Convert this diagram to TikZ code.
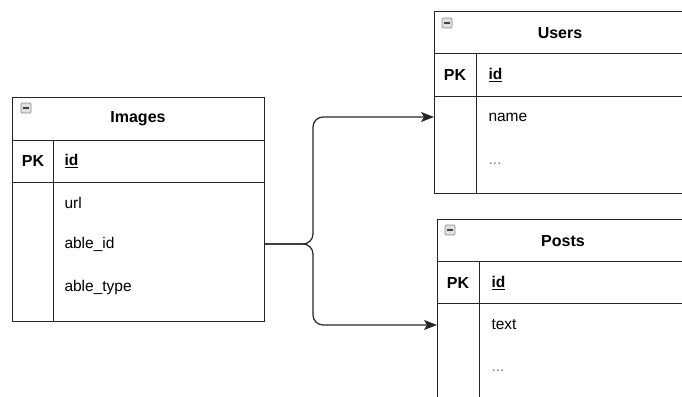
\documentclass[tikz,border=0pt]{standalone}
\usepackage{fontspec}
\setmainfont{Liberation Sans}
\usetikzlibrary{arrows.meta}
\begin{document}
\begin{tikzpicture}[x=1pt,y=-1pt,line width=1pt,
  tbl/.style={draw=black!85,anchor=north west,inner sep=0,outer sep=0,minimum width=252pt},
  sep/.style={draw=black!85},
  ttl/.style={font=\bfseries\fontsize{16}{19}\selectfont,inner sep=0},
  pk/.style={font=\bfseries\fontsize{16}{19}\selectfont,inner sep=0},
  fld/.style={anchor=west,font=\fontsize{15.5}{19}\selectfont,inner sep=0},
  dots/.style={anchor=west,font=\fontsize{15.5}{19}\selectfont,inner sep=0,text=black!50},
  conn/.style={draw=black!85,line width=1.2pt,rounded corners=10pt,-{Stealth[length=13pt,width=10pt,inset=3pt]}}]
\useasboundingbox (0,0) rectangle (682,396);
\clip (0,0) rectangle (682,396);
\newcommand{\minusicon}[2]{%
  \draw[line width=0.7pt,draw=black!45,fill=black!12,rounded corners=1.2pt] (#1,#2) rectangle ++(10,10);
  \draw[line width=1.4pt,draw=black!75] (#1+2.2,#2+5) -- ++(5.6,0);}
% Images
\node[tbl,minimum height=224pt] (images) at (12,97) {};
\draw[sep] (12,140) -- (264,140) (12,182) -- (264,182) (53,140) -- (53,321);
\minusicon{21}{103}
\node[ttl] (imgt) at (138,119) {Images};
\node[pk] (imgpk) at (33,161) {PK};
\node[fld] (imgid) at (64,161) {\bfseries\underline{id}};
\node[fld] (url) at (64,203) {url};
\node[fld] (aid) at (64,244) {able\_id};
\node[fld] (atype) at (64,287) {able\_type};
% Users
\node[tbl,minimum height=181pt] (users) at (434,12) {};
\draw[sep] (434,54) -- (690,54) (434,96) -- (690,96) (476,54) -- (476,193);
\minusicon{442}{18}
\node[ttl] (ust) at (560,33) {Users};
\node[pk] (uspk) at (455,75) {PK};
\node[fld] (usid) at (488,75) {\bfseries\underline{id}};
\node[fld] (nm) at (488,117) {name};
\node[dots] (usdots) at (488,164) {...};
% Posts
\node[tbl,minimum height=200pt] (posts) at (437,219) {};
\draw[sep] (437,261) -- (692,261) (437,303) -- (692,303) (479,261) -- (479,420);
\minusicon{445}{225}
\node[ttl] (pst) at (563,241) {Posts};
\node[pk] (pspk) at (458,283) {PK};
\node[fld] (psid) at (491,283) {\bfseries\underline{id}};
\node[fld] (txt) at (491,325) {text};
\node[dots] (psdots) at (491,371) {...};
% connectors
\coordinate (bx) at (313,0);
\draw[conn] (images.east |- aid) -- (bx |- aid) -- (bx |- nm) -- (users.west |- nm);
\draw[conn] (images.east |- aid) -- (bx |- aid) -- (bx |- txt) -- (posts.west |- txt);
\end{tikzpicture}
\end{document}
